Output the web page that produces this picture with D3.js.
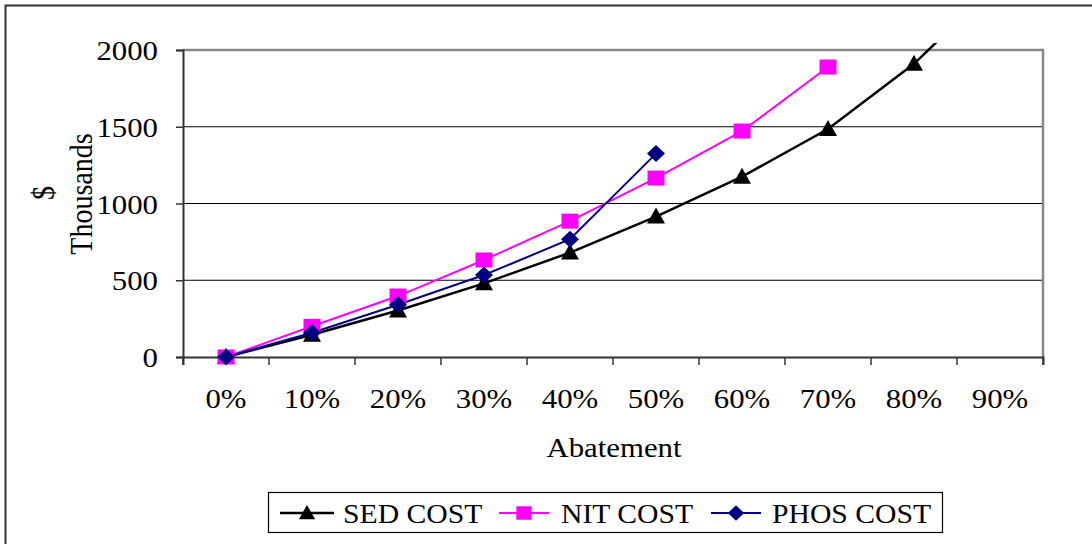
<!DOCTYPE html>
<html><head><meta charset="utf-8">
<script src="https://cdn.jsdelivr.net/npm/d3@7"></script>
<style>html,body{margin:0;padding:0;background:#fff;}svg{display:block;}text{font-family:"Liberation Serif","Times New Roman",serif;fill:#000;}</style>
</head><body>
<svg id="c" width="1092" height="544"></svg>
<script>
const categories = ["0%","10%","20%","30%","40%","50%","60%","70%","80%","90%"];
const sedCost  = [0,145,303,480,680,915,1175,1485,1910,2450];
const nitCost  = [0,200,397,632,885,1166,1472,1889,null,null];
const phosCost = [0,158,340,534,767,1325,null,null,null,null];
const yTicks = [0,500,1000,1500,2000];
const seriesNames = ["SED COST","NIT COST","PHOS COST"];

const svg = d3.select("#c");
const L=183, R=1043, T=50, B=357, SX=1.1, FS=28;

svg.append("rect").attr("x",5.5).attr("y",5.5).attr("width",1200).attr("height",800)
  .attr("fill","none").attr("stroke","#333").attr("stroke-width",2);

const x = d3.scaleBand().domain(categories).range([L,R]);
const y = d3.scaleLinear().domain([0,2000]).range([B,T]);

// gridlines
svg.append("g").selectAll("line").data(yTicks.filter(v=>v>0&&v<2000)).join("line")
  .attr("x1",L).attr("x2",R).attr("y1",d=>y(d)).attr("y2",d=>y(d))
  .attr("stroke","#000").attr("stroke-width",1.2);
// plot frame top/right gray
svg.append("path").attr("d",`M${L},${T}H${R}V${B}`).attr("fill","none").attr("stroke","#888").attr("stroke-width",2.5);

// y axis
const yAxis = svg.append("g").attr("transform",`translate(${L},0)`)
  .call(d3.axisLeft(y).tickValues(yTicks).tickSize(7).tickFormat(""));
yAxis.select(".domain").attr("stroke","#333").attr("stroke-width",2);
yAxis.selectAll(".tick line").attr("stroke","#333").attr("stroke-width",1.5);
yTicks.forEach(v=>{
  svg.append("text").attr("transform",`translate(158,${y(v)+10}) scale(${SX},1)`)
    .attr("text-anchor","end").attr("font-size",FS).text(v);
});
// x axis
const xAxis = svg.append("g").attr("transform",`translate(0,${B})`)
  .call(d3.axisBottom(x).tickSize(8).tickFormat(""));
xAxis.select(".domain").attr("stroke","#333").attr("stroke-width",2);
xAxis.selectAll(".tick line").attr("stroke","#333").attr("stroke-width",1.5)
  .attr("transform",`translate(${-x.bandwidth()/2},0)`);
xAxis.append("line").attr("x1",R-L).attr("x2",R-L).attr("y1",0).attr("y2",8)
  .attr("transform",`translate(${L},0)`).attr("stroke","#333").attr("stroke-width",1.5);
categories.forEach(c=>{
  svg.append("text").attr("transform",`translate(${x(c)+x.bandwidth()/2},408) scale(${SX},1)`)
    .attr("text-anchor","middle").attr("font-size",FS).text(c);
});

// axis titles
svg.append("text").attr("transform",`translate(614,457) scale(${SX},1)`).attr("text-anchor","middle").attr("font-size",FS).text("Abatement");
svg.append("text").attr("transform",`translate(92,194) scale(${SX},1) rotate(-90)`).attr("text-anchor","middle").attr("font-size",FS).text("Thousands");
svg.append("text").attr("transform",`translate(54,193) scale(${SX},1) rotate(-90)`).attr("text-anchor","middle").attr("font-size",FS).text("$");

// clip
svg.append("clipPath").attr("id","clip").append("rect").attr("x",0).attr("y",43).attr("width",1092).attr("height",500);

const cx = i => x(categories[i]) + x.bandwidth()/2;
const line = d3.line().defined(d=>d!=null).x((d,i)=>cx(i)).y(d=>y(d));

const tri = "M0,-9L9,7L-9,7Z";
const sq = "M-8.5,-7.5H8.5V7.5H-8.5Z";
const dia = "M0,-8.5L9,0L0,8.5L-9,0Z";

const series = [
  {name:seriesNames[0], vals:sedCost, color:"#000000", w:2.5, m:tri},
  {name:seriesNames[1], vals:nitCost, color:"#FF00FF", w:2, m:sq},
  {name:seriesNames[2], vals:phosCost, color:"#000080", w:2, m:dia}
];
const g = svg.append("g").attr("clip-path","url(#clip)");
series.forEach(s=>{
  g.append("path").datum(s.vals).attr("d",line).attr("fill","none").attr("stroke",s.color).attr("stroke-width",s.w);
});
series.forEach(s=>{
  g.selectAll(null).data(s.vals.map((v,i)=>[v,i]).filter(d=>d[0]!=null)).join("path")
    .attr("d",s.m).attr("fill",s.color)
    .attr("transform",d=>`translate(${cx(d[1])},${y(d[0])})`);
});

// legend
svg.append("rect").attr("x",268.5).attr("y",492.5).attr("width",674).attr("height",40)
  .attr("fill","#fff").attr("stroke","#000").attr("stroke-width",1.2);
const leg = [{x1:280,x2:334,tx:343},{x1:499,x2:549,tx:561},{x1:711,x2:761,tx:772}];
series.forEach((s,i)=>{
  const l=leg[i];
  svg.append("line").attr("x1",l.x1).attr("x2",l.x2).attr("y1",513).attr("y2",513).attr("stroke",s.color).attr("stroke-width",s.w);
  svg.append("path").attr("d",s.m).attr("fill",s.color).attr("transform",`translate(${(l.x1+l.x2)/2},513) scale(0.9)`);
  svg.append("text").attr("transform",`translate(${l.tx},523) scale(1.06,1)`).attr("font-size",FS).text(s.name);
});
</script>
</body></html>
